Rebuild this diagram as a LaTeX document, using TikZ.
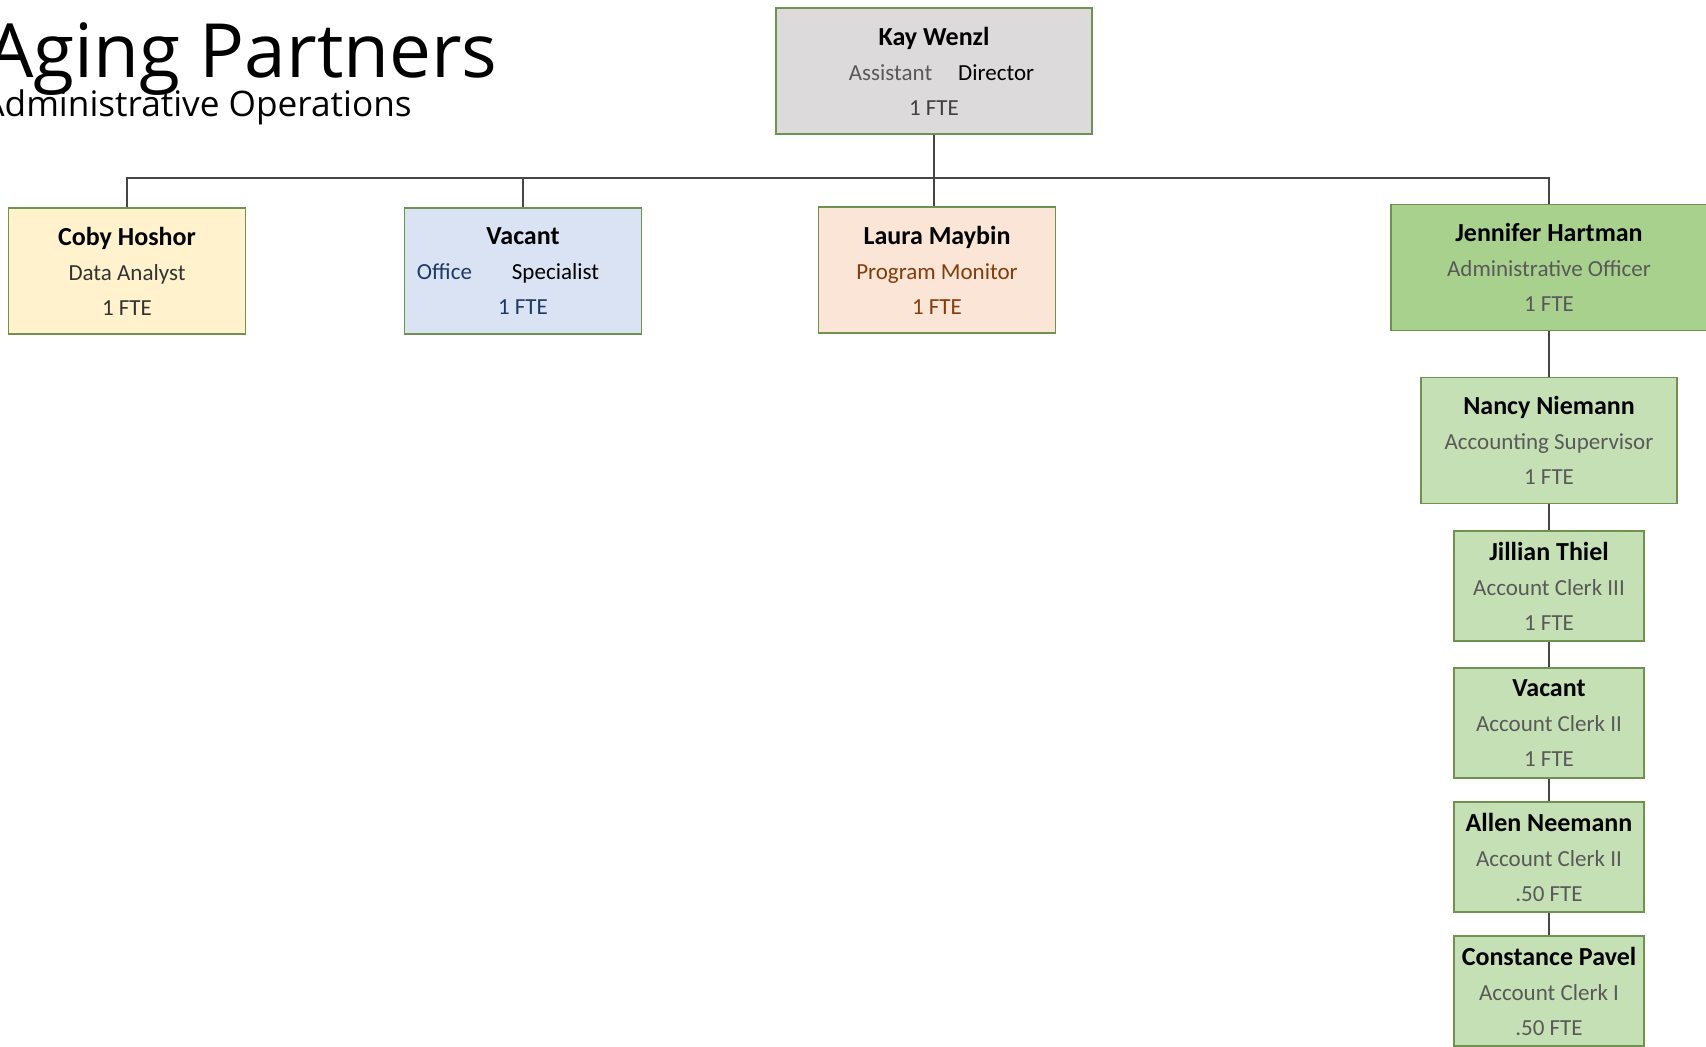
\documentclass[tikz,border=0pt]{standalone}
\usepackage{fontspec}
\setmainfont{Carlito}
\newfontfamily\headfont{Open Sans}
\usepackage{tikz}

\definecolor{edgegreen}{RGB}{112,146,80}
\definecolor{linkgray}{RGB}{70,70,70}
\definecolor{greyfill}{RGB}{220,218,219}
\definecolor{yellowfill}{RGB}{255,242,204}
\definecolor{bluefill}{RGB}{218,227,243}
\definecolor{peachfill}{RGB}{251,229,214}
\definecolor{darkgreenfill}{RGB}{169,209,142}
\definecolor{lightgreenfill}{RGB}{197,224,180}
\definecolor{txtgray}{RGB}{89,89,89}
\definecolor{txtblue}{RGB}{32,56,100}
\definecolor{txtbrown}{RGB}{132,60,12}

\newcommand{\who}[1]{{\fontsize{13}{17.5}\selectfont\bfseries\color{black}#1}}

\begin{document}
\begin{tikzpicture}[x=0.5pt,y=-0.5pt,
    box/.style={rectangle, draw=edgegreen, line width=0.7pt, inner sep=0pt,
      align=center, font=\fontsize{11.5}{17.5}\selectfont},
    widebox/.style={box, minimum width=158pt, minimum height=63pt},
    midbox/.style={box, minimum width=118.5pt, minimum height=63pt},
    smallbox/.style={box, minimum width=95pt, minimum height=55pt},
    link/.style={draw=linkgray, line width=0.7pt}]

  \useasboundingbox (0,0) rectangle (1706,1046);

  % heading
  \node[anchor=base west, inner sep=0pt, font=\headfont\fontsize{37.4}{40}\selectfont] (title) at (-14,77) {Aging Partners};
  \node[anchor=base west, inner sep=0pt, font=\headfont\fontsize{17.6}{20}\selectfont] (subtitle) at (-18,116) {Administrative Operations};

  % top row
  \node[widebox, fill=greyfill, text=txtgray] (kay) at (934,71)
    {\who{Kay Wenzl}\\ \hspace*{7.5pt}Assistant\hspace{13pt}{\color{black}Director}\\ {\color{black!75}1 FTE}};
  \node[midbox, fill=yellowfill, text=black!80] (coby) at (127,271)
    {\who{Coby Hoshor}\\ Data Analyst\\ 1 FTE};
  \node[midbox, fill=bluefill, text=txtblue] (office) at (523,271)
    {\who{Vacant}\\ Office\hspace{20pt}{\color{black}Specialist}\hspace{15pt}\mbox{}\\ 1 FTE};
  \node[midbox, fill=peachfill, text=txtbrown] (laura) at (937,270)
    {\who{Laura Maybin}\\ Program Monitor\\ 1 FTE};
  \node[widebox, fill=darkgreenfill, text=txtgray] (jen) at (1549,267.5)
    {\who{Jennifer Hartman}\\ Administrative Officer\\ 1 FTE};

  % accounting column
  \node[box, minimum width=128pt, minimum height=63pt, fill=lightgreenfill, text=txtgray] (nancy) at (1549,440.5)
    {\who{Nancy Niemann}\\ Accounting Supervisor\\ 1 FTE};
  \node[smallbox, fill=lightgreenfill, text=txtgray] (jillian) at (1549,586)
    {\who{Jillian Thiel}\\ Account Clerk III\\ 1 FTE};
  \node[smallbox, fill=lightgreenfill, text=txtgray] (clerk) at (1549,723)
    {\who{Vacant}\\ Account Clerk II\\ 1 FTE};
  \node[smallbox, fill=lightgreenfill, text=txtgray] (allen) at (1549,857)
    {\who{Allen Neemann}\\ Account Clerk II\\ .50 FTE};
  \node[smallbox, fill=lightgreenfill, text=txtgray] (constance) at (1549,991)
    {\who{Constance Pavel}\\ Account Clerk I\\ .50 FTE};

  \coordinate (bus) at (934,178);

  % connectors
  \path[link] (kay.south) -- (kay.south |- laura.north);
  \path[link] (coby.north) -- (coby.north |- bus) -- (jen.north |- bus) -- (jen.north);
  \path[link] (office.north) -- (office.north |- bus);
  \path[link] (jen) -- (nancy);
  \path[link] (nancy) -- (jillian);
  \path[link] (jillian) -- (clerk);
  \path[link] (clerk) -- (allen);
  \path[link] (allen) -- (constance);

\end{tikzpicture}
\end{document}
